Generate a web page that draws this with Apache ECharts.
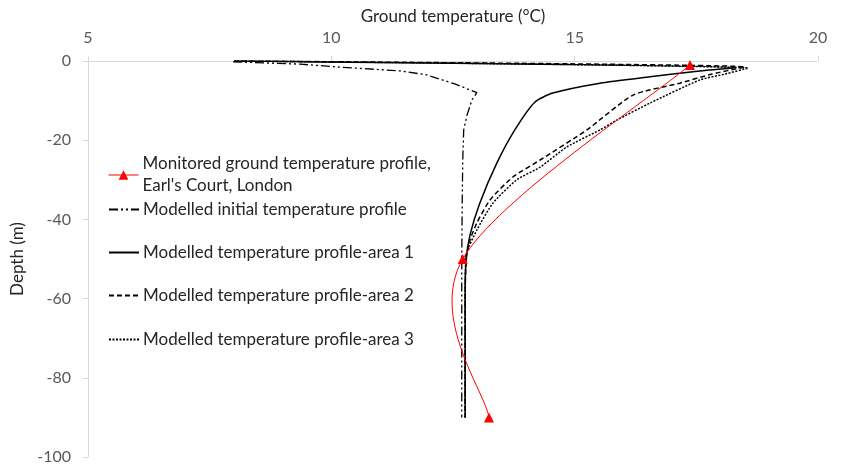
<!DOCTYPE html>
<html>
<head>
<meta charset="utf-8">
<script src="https://cdn.jsdelivr.net/npm/echarts@6/dist/echarts.min.js"></script>
<style>html,body{margin:0;padding:0;background:#fff}#c{width:850px;height:464px}</style>
</head>
<body>
<div id="c"></div>
<script>
// Axis ticks
const xTicks = [5, 10, 15, 20];
const yTicks = [0, -20, -40, -60, -80, -100];

// Series names
const nameMonitored = "Monitored ground temperature profile, Earl's Court, London";
const nameInitial = "Modelled initial temperature profile";
const nameArea1 = "Modelled temperature profile-area 1";
const nameArea2 = "Modelled temperature profile-area 2";
const nameArea3 = "Modelled temperature profile-area 3";

// [temperature (°C), depth (m)]
const monitored = [[17.37, -1], [12.70, -50], [13.24, -90]];

const initialProfile = [
  [7.98, -0.2], [9.36, -0.8], [10.12, -1.5], [11.41, -2.5], [11.96, -3.5],
  [12.54, -5.8], [12.99, -8.0], [12.89, -9.8], [12.79, -13.6], [12.72, -17.4],
  [12.70, -25], [12.69, -35], [12.68, -50], [12.68, -70], [12.68, -90]
];

const area1 = [
  [8.0, 0], [18.30, -1.7], [17.57, -2.5], [16.55, -4.0], [15.52, -5.6],
  [14.55, -8.1], [14.18, -10.4], [13.77, -17.4], [13.40, -25.8], [13.05, -35.9],
  [12.85, -43.9], [12.77, -50.3], [12.75, -60], [12.75, -75], [12.75, -90]
];

const area2 = [
  [8.0, 0], [18.50, -1.5], [17.82, -3.3], [17.16, -5.6], [16.20, -8.6],
  [15.25, -17.4], [14.29, -25.0], [13.73, -29.3], [13.26, -35.1],
  [12.99, -40.9], [12.85, -45.2], [12.77, -49.7], [12.75, -60], [12.75, -75], [12.75, -90]
];

const area3 = [
  [8.0, 0], [18.56, -1.8], [18.09, -3.3], [17.57, -4.8], [16.55, -10.6],
  [15.87, -14.9], [15.52, -17.4], [14.84, -21.7], [14.29, -26.8], [13.81, -30.0],
  [13.32, -35.9], [12.99, -42.7], [12.77, -49.0], [12.75, -60], [12.75, -75], [12.75, -90]
];

const FONT = 'Lato';
const TXT = '#262626';
const LBL = '#595959';
const AX = '#d9d9d9';
const RED = '#ff0000';

const chart = echarts.init(document.getElementById('c'), null, {renderer: 'canvas'});

function leg(name, top, extra) {
  return Object.assign({
    data: [name],
    left: 108,
    top: top,
    orient: 'vertical',
    itemWidth: 30,
    itemHeight: 12,
    itemGap: 0,
    padding: 0,
    selectedMode: false,
    itemStyle: {opacity: 0},
    textStyle: {fontFamily: FONT, fontSize: 17, color: TXT, padding: [0, 0, 0, -1]}
  }, extra || {});
}

// Spreadsheet-style smoothed curve through the monitored points (Bezier, 1/6 neighbour tangents),
// positioned with the chart's own axes via api.coord.
function renderSmooth(params, api) {
  const pts = monitored.map(p => api.coord(p));
  const n = pts.length;
  const children = [];
  for (let i = 0; i < n - 1; i++) {
    const p0 = pts[Math.max(i - 1, 0)], p1 = pts[i], p2 = pts[i + 1], p3 = pts[Math.min(i + 2, n - 1)];
    children.push({
      type: 'bezierCurve',
      shape: {
        x1: p1[0], y1: p1[1], x2: p2[0], y2: p2[1],
        cpx1: p1[0] + (p2[0] - p0[0]) / 6, cpy1: p1[1] + (p2[1] - p0[1]) / 6,
        cpx2: p2[0] - (p3[0] - p1[0]) / 6, cpy2: p2[1] - (p3[1] - p1[1]) / 6
      },
      style: {stroke: RED, lineWidth: 1, fill: null}
    });
  }
  return {type: 'group', children: children};
}

chart.setOption({
  animation: false,
  backgroundColor: '#fff',
  grid: {left: 88, right: 32, top: 61, bottom: 7, containLabel: false, outerBoundsMode: 'none'},
  xAxis: {
    type: 'value', position: 'top', min: xTicks[0], max: xTicks[xTicks.length - 1], interval: 5,
    name: 'Ground temperature (°C)', nameLocation: 'middle', nameGap: 31,
    nameTextStyle: {fontFamily: FONT, fontSize: 17, color: TXT},
    axisLine: {show: true, lineStyle: {color: AX, width: 1}},
    axisTick: {show: true, inside: false, length: 5, lineStyle: {color: AX}},
    axisLabel: {fontFamily: FONT, fontSize: 16, color: LBL, margin: 15},
    splitLine: {show: false}
  },
  yAxis: {
    type: 'value', min: yTicks[yTicks.length - 1], max: yTicks[0], interval: 20,
    name: 'Depth (m)', nameLocation: 'middle', nameGap: 54, nameRotate: 90,
    nameTextStyle: {fontFamily: FONT, fontSize: 17, color: TXT},
    axisLine: {show: true, onZero: false, lineStyle: {color: AX, width: 1}},
    axisTick: {show: true, inside: false, length: 5, lineStyle: {color: AX}},
    axisLabel: {fontFamily: FONT, fontSize: 16, color: LBL, margin: 17},
    splitLine: {show: false}
  },
  legend: [
    leg(nameMonitored, 142, {
      itemStyle: {},
      lineStyle: {color: RED, width: 1, opacity: 1, type: 'solid'},
      formatter: n => n.replace(', Earl', ',\nEarl'),
      textStyle: {fontFamily: FONT, fontSize: 17, color: TXT, lineHeight: 22, padding: [22, 0, 0, -1]}
    }),
    leg(nameInitial, 201),
    leg(nameArea1, 244),
    leg(nameArea2, 287),
    leg(nameArea3, 331)
  ],
  series: [
    {
      name: nameInitial, type: 'line', data: initialProfile, showSymbol: false, symbol: 'none',
      lineStyle: {color: '#000', width: 1.3, type: [9, 3, 2, 3, 2, 3]}, itemStyle: {color: '#000'}, z: 3
    },
    {
      name: nameArea1, type: 'line', data: area1, showSymbol: false, symbol: 'none', smooth: 0.2,
      lineStyle: {color: '#000', width: 1.5, type: 'solid'}, itemStyle: {color: '#000'}, z: 3
    },
    {
      name: nameArea2, type: 'line', data: area2, showSymbol: false, symbol: 'none', smooth: 0.2,
      lineStyle: {color: '#000', width: 1.5, type: [5, 3]}, itemStyle: {color: '#000'}, z: 3
    },
    {
      name: nameArea3, type: 'line', data: area3, showSymbol: false, symbol: 'none', smooth: 0.2,
      lineStyle: {color: '#000', width: 1.5, type: [2, 1.5]}, itemStyle: {color: '#000'}, z: 3
    },
    {
      type: 'custom', coordinateSystem: 'cartesian2d', data: [monitored[0]],
      renderItem: renderSmooth, silent: true, z: 4
    },
    {
      name: nameMonitored, type: 'line', data: monitored,
      symbol: 'triangle', symbolSize: 10, showSymbol: true,
      lineStyle: {color: RED, width: 1, opacity: 0}, itemStyle: {color: RED}, z: 5
    }
  ]
});
</script>
</body>
</html>
